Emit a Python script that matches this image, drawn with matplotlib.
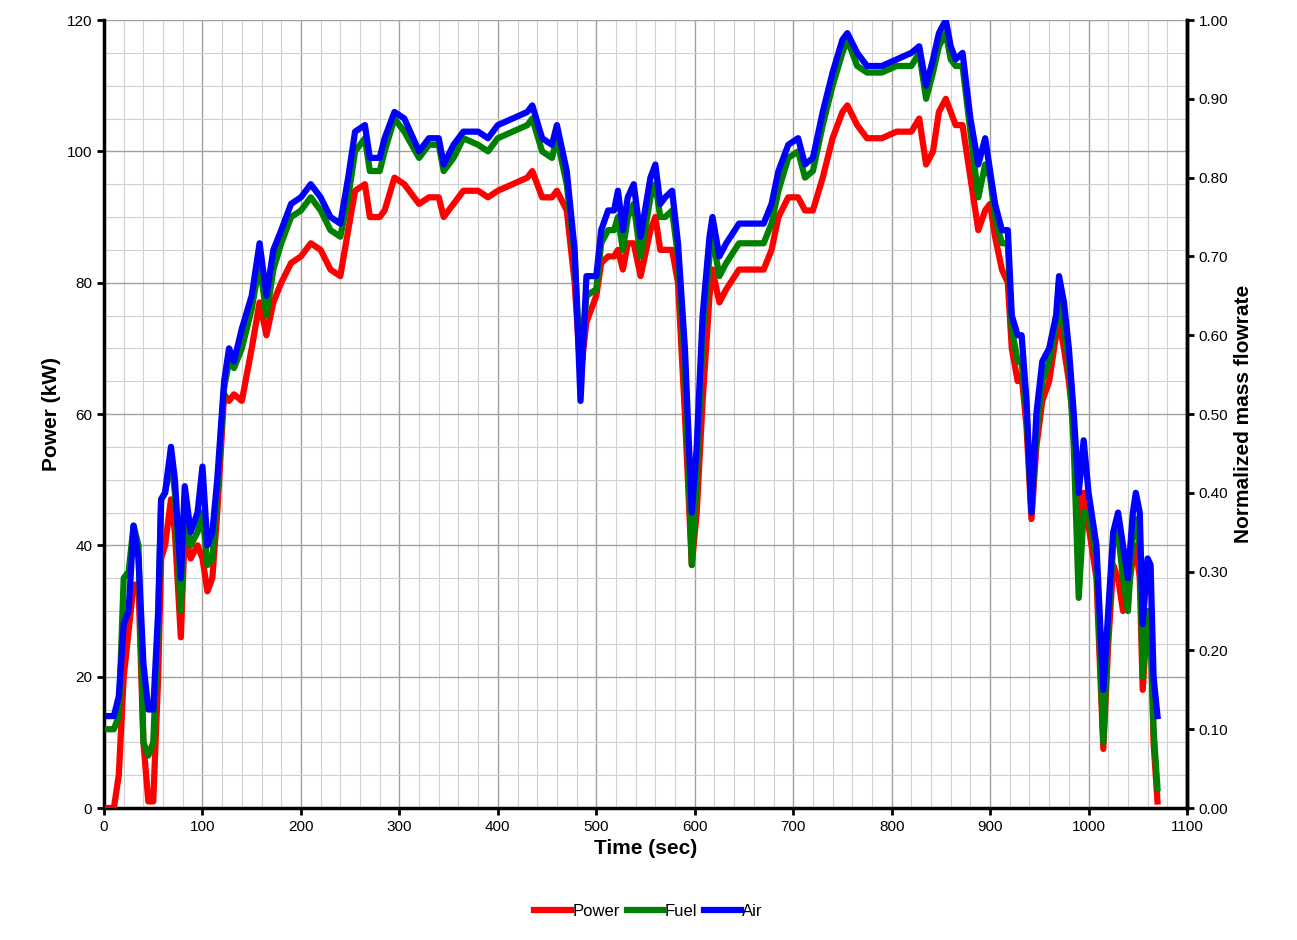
import matplotlib
matplotlib.use("Agg")
import matplotlib.pyplot as plt
from matplotlib.ticker import MultipleLocator

plt.rcParams['font.family'] = ['Liberation Sans', 'DejaVu Sans']

time = [0, 10, 15, 20, 25, 30, 35, 40, 45, 50, 55, 58, 62, 68, 72, 78, 82, 88, 95, 100,
        105, 110, 115, 122, 127, 132, 140, 150, 158, 165, 172, 180, 190, 200, 210, 220, 230, 240, 248, 255,
        265, 270, 280, 285, 295, 305, 320, 330, 340, 345, 355, 365, 380, 390, 400, 415, 430, 435, 445, 455,
        460, 470, 478, 484, 490, 500, 505, 512, 518, 522, 527, 532, 538, 545, 555, 560, 565, 570, 577, 583,
        590, 597, 602, 608, 615, 618, 625, 632, 645, 660, 670, 678, 685, 695, 705, 712, 720, 730, 740, 750,
        755, 765, 775, 790, 805, 820, 828, 835, 842, 848, 855, 860, 865, 872, 880, 888, 895, 900, 905, 912,
        918, 922, 928, 932, 937, 942, 947, 953, 960, 967, 970, 975, 980, 985, 990, 995, 1000, 1008, 1015, 1020,
        1025, 1030, 1035, 1040, 1045, 1048, 1052, 1055, 1060, 1063, 1066, 1070]

# Power in kW
power = [0, 0, 5, 20, 27, 34, 34, 10, 1, 1, 20, 38, 40, 47, 42, 26, 42, 38, 40, 38,
         33, 35, 45, 63, 62, 63, 62, 70, 77, 72, 77, 80, 83, 84, 86, 85, 82, 81, 88, 94,
         95, 90, 90, 91, 96, 95, 92, 93, 93, 90, 92, 94, 94, 93, 94, 95, 96, 97, 93, 93,
         94, 91, 80, 66, 74, 78, 83, 84, 84, 85, 82, 86, 86, 81, 88, 90, 85, 85, 85, 80,
         60, 37, 45, 62, 78, 82, 77, 79, 82, 82, 82, 85, 90, 93, 93, 91, 91, 96, 102, 106,
         107, 104, 102, 102, 103, 103, 105, 98, 100, 106, 108, 106, 104, 104, 96, 88, 91, 92, 87, 82,
         80, 70, 65, 66, 58, 44, 55, 62, 65, 72, 74, 70, 65, 58, 42, 48, 43, 35, 9, 25,
         37, 35, 30, 33, 38, 40, 35, 18, 30, 30, 10, 1]

# Fuel and air flow, expressed on the power scale (120 kW <-> 1.00 normalized)
fuel = [12, 12, 14, 35, 36, 43, 40, 10, 8, 10, 28, 47, 48, 53, 48, 30, 45, 40, 42, 45,
        37, 38, 48, 64, 68, 67, 70, 76, 83, 75, 82, 86, 90, 91, 93, 91, 88, 87, 93, 100,
        102, 97, 97, 100, 105, 103, 99, 101, 101, 97, 99, 102, 101, 100, 102, 103, 104, 105, 100, 99,
        102, 95, 84, 67, 78, 79, 86, 88, 88, 90, 85, 90, 92, 84, 93, 95, 90, 90, 91, 84,
        67, 37, 50, 72, 84, 87, 81, 83, 86, 86, 86, 89, 94, 99, 100, 96, 97, 104, 110, 115,
        117, 113, 112, 112, 113, 113, 115, 108, 112, 116, 118, 114, 113, 113, 103, 93, 98, 96, 90, 86,
        86, 73, 68, 68, 60, 45, 57, 65, 68, 74, 77, 73, 68, 55, 32, 45, 45, 38, 10, 28,
        40, 42, 35, 30, 42, 44, 40, 20, 30, 26, 12, 3]

air = [14, 14, 17, 28, 30, 43, 38, 22, 15, 15, 30, 47, 48, 55, 50, 35, 49, 42, 45, 52,
       40, 42, 50, 65, 70, 68, 73, 78, 86, 78, 85, 88, 92, 93, 95, 93, 90, 89, 96, 103,
       104, 99, 99, 102, 106, 105, 100, 102, 102, 98, 101, 103, 103, 102, 104, 105, 106, 107, 102, 101,
       104, 97, 85, 62, 81, 81, 88, 91, 91, 94, 88, 93, 95, 87, 96, 98, 92, 93, 94, 86,
       70, 45, 55, 75, 87, 90, 84, 86, 89, 89, 89, 92, 97, 101, 102, 98, 99, 106, 112, 117,
       118, 115, 113, 113, 114, 115, 116, 110, 114, 118, 120, 116, 114, 115, 105, 98, 102, 97, 92, 88,
       88, 75, 72, 72, 62, 45, 60, 68, 70, 75, 81, 77, 70, 60, 48, 56, 48, 40, 18, 30,
       42, 45, 40, 35, 45, 48, 45, 28, 38, 37, 20, 14]

fig = plt.figure(figsize=(12.97, 9.4), dpi=100)
ax = fig.add_axes([0.0802, 0.1404, 0.835, 0.8383])

lw = 4.5
ax.plot(time, power, color='#ff0000', lw=lw, label='Power', zorder=3)
ax.plot(time, fuel, color='#008000', lw=lw, label='Fuel', zorder=4)
ax.plot(time, air, color='#0000ff', lw=lw, label='Air', zorder=5)

ax.set_xlim(0, 1100)
ax.set_ylim(0, 120)
ax.xaxis.set_major_locator(MultipleLocator(100))
ax.xaxis.set_minor_locator(MultipleLocator(20))
ax.yaxis.set_major_locator(MultipleLocator(20))
ax.yaxis.set_minor_locator(MultipleLocator(5))
ax.grid(which='major', color='#a0a0a0', lw=1.0)
ax.grid(which='minor', color='#d0d0d0', lw=0.8)
ax.set_axisbelow(True)
ax.tick_params(which='minor', length=0)
ax.tick_params(which='major', direction='out', length=5, width=2, labelsize=11)
for s in ['left', 'bottom', 'right']:
    ax.spines[s].set_linewidth(2.5)
ax.spines['top'].set_visible(False)

ax.set_xlabel('Time (sec)', fontsize=15, fontweight='bold')
ax.set_ylabel('Power (kW)', fontsize=15, fontweight='bold')

ax2 = ax.twinx()
ax2.set_ylim(0, 1.0)
ax2.yaxis.set_major_locator(MultipleLocator(0.1))
ax2.set_yticklabels([f'{v:.2f}' for v in ax2.get_yticks()])
ax2.tick_params(direction='out', length=5, width=2, labelsize=11)
ax2.spines['right'].set_linewidth(2.5)
ax2.spines['top'].set_visible(False)
ax2.set_ylabel('Normalized mass flowrate', fontsize=15, fontweight='bold')

fig.legend(*ax.get_legend_handles_labels(), loc='center', bbox_to_anchor=(0.5, 0.03),
           ncol=3, frameon=False, fontsize=12, handlelength=2.2, handletextpad=0.1,
           columnspacing=0.4)

fig.savefig('out.png', dpi=100)
